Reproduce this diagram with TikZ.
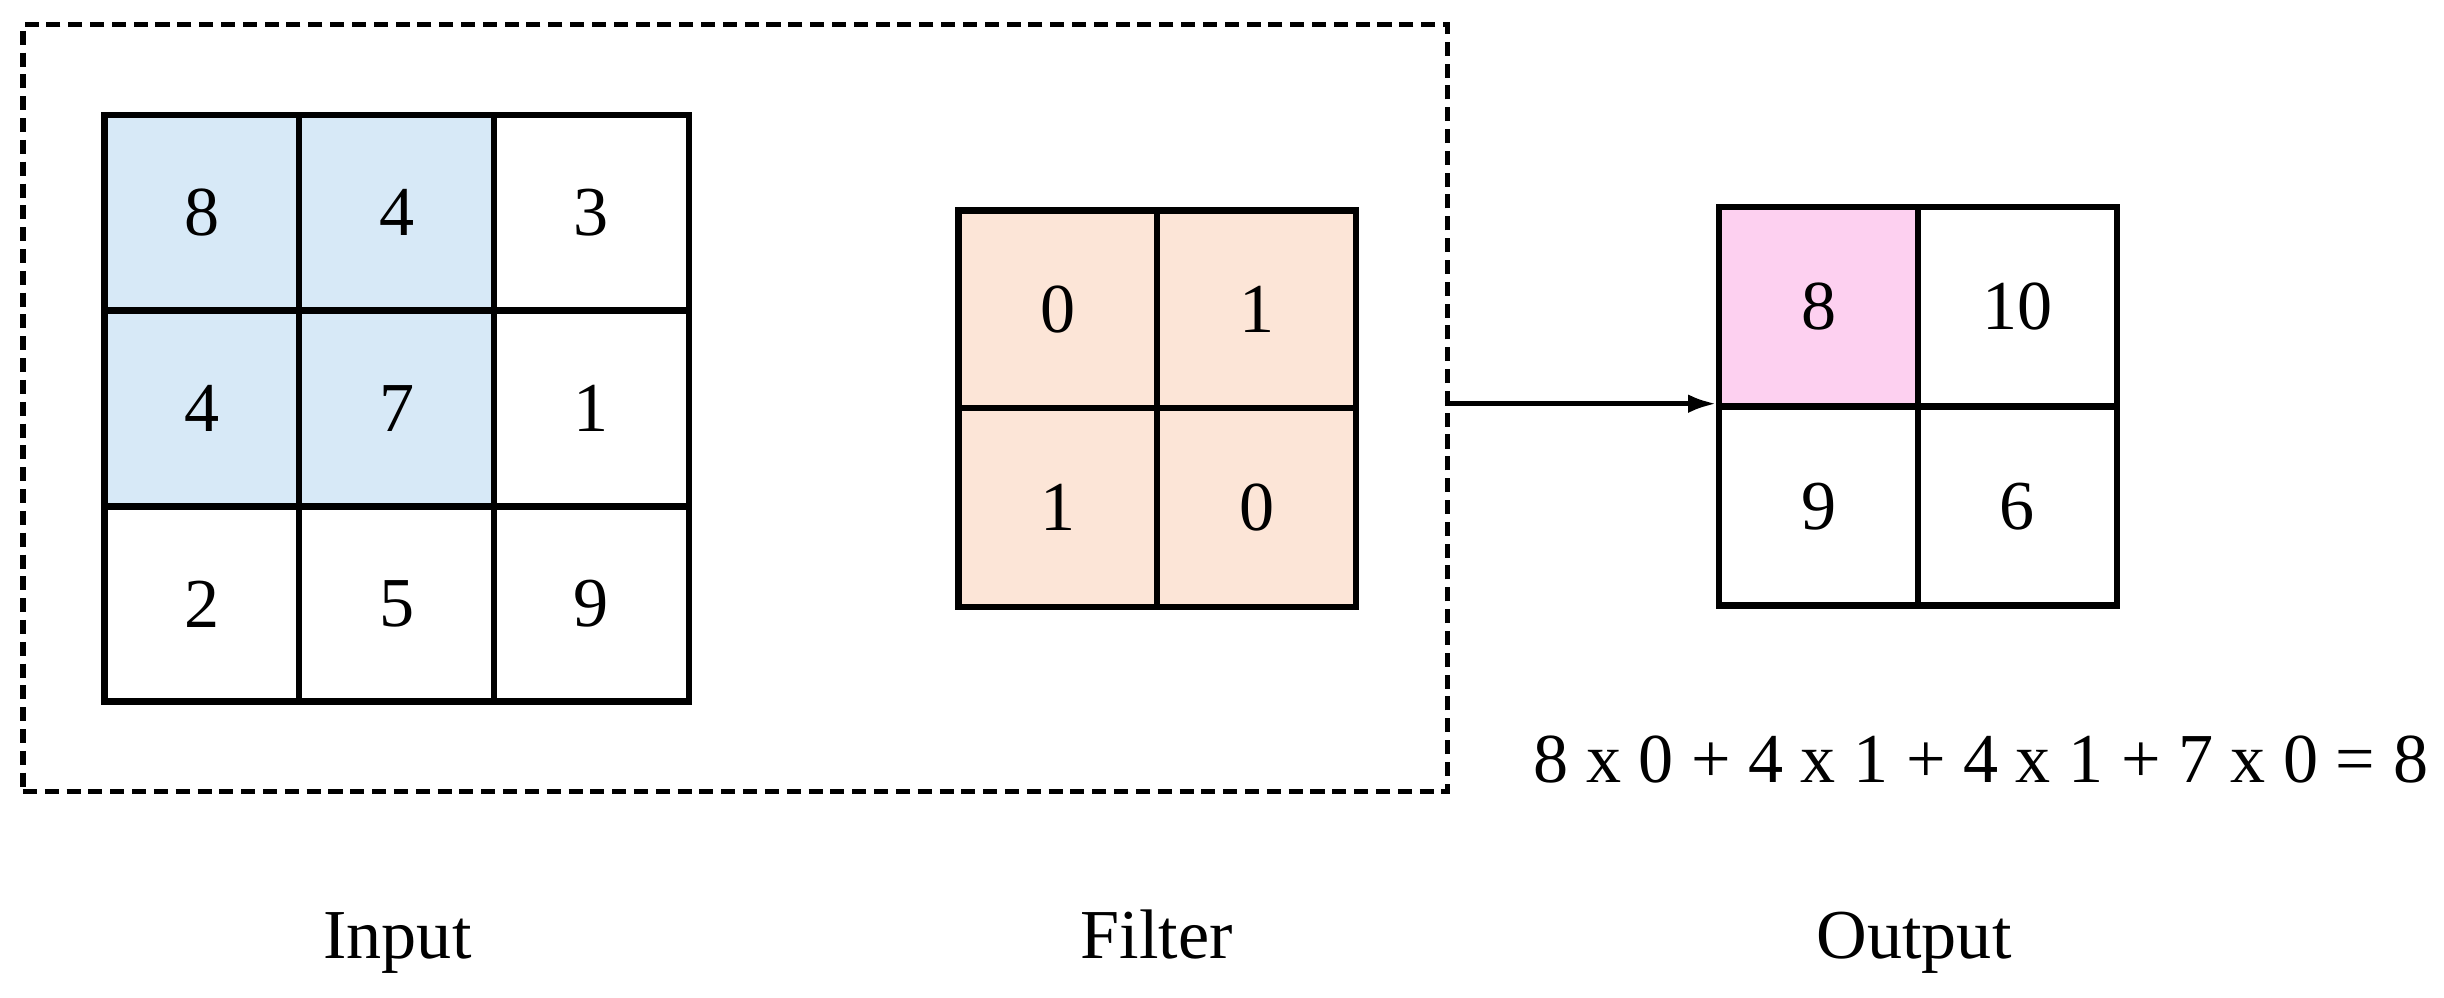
\documentclass[tikz,border=0pt]{standalone}
\usepackage{fontspec}
\setmainfont{Liberation Serif}
\usetikzlibrary{arrows.meta}
\definecolor{cblue}{HTML}{D7E9F7}
\definecolor{cpeach}{HTML}{FCE5D7}
\definecolor{cpink}{HTML}{FDD0F0}
\begin{document}
\begin{tikzpicture}[x=1pt,y=-1pt,
  cell/.style={draw,line width=4pt,minimum width=#1pt,minimum height=#1pt,inner sep=0pt,anchor=north west,font=\fontsize{45}{50}\selectfont},
  lab/.style={font=\fontsize{45}{50}\selectfont}]
\useasboundingbox (0,0) rectangle (1568,640);
\node[draw,line width=3.5pt,minimum width=914pt,minimum height=492pt,anchor=north west,dash pattern=on 9pt off 5pt] (box) at (13,14) {};
% input
\foreach \v [count=\i from 0] in {8,4,3,4,7,1,2,5,9}{
  \pgfmathtruncatemacro\c{mod(\i,3)}\pgfmathtruncatemacro\r{div(\i,3)}
  \pgfmathsetmacro\fillc{(\c<2 && \r<2) ? 1 : 0}
  \ifdim\fillc pt>0.5pt
    \node[cell=125,fill=cblue] (in\i) at (65+125*\c,72+125.5*\r) {\v};
  \else
    \node[cell=125] (in\i) at (65+125*\c,72+125.5*\r) {\v};
  \fi
}
% filter
\foreach \v [count=\i from 0] in {0,1,1,0}{
  \pgfmathtruncatemacro\c{mod(\i,2)}\pgfmathtruncatemacro\r{div(\i,2)}
  \node[cell=127.5,fill=cpeach] (f\i) at (613+127.5*\c,133+127*\r) {\v};
}
% output
\node[cell=127.5,fill=cpink] (o0) at (1101,131) {8};
\node[cell=127.5] (o1) at (1228.5,131) {10};
\node[cell=127.5] (o2) at (1101,259) {9};
\node[cell=127.5] (o3) at (1228.5,259) {6};
\coordinate (a) at (927,259);
\draw[line width=3pt,-{Latex[length=18pt,width=12pt]}] (a) -- (o2.north west);
\node[lab,anchor=base east,inner sep=0pt] (eq) at (1558,502) {8 x 0 + 4 x 1 + 4 x 1 + 7 x 0 = 8};
\node[lab,anchor=base,inner sep=0pt] (li) at (255,615) {Input};
\node[lab,anchor=base,inner sep=0pt] (lf) at (742,615) {Filter};
\node[lab,anchor=base,inner sep=0pt] (lo) at (1228,615) {Output};
\end{tikzpicture}
\end{document}
